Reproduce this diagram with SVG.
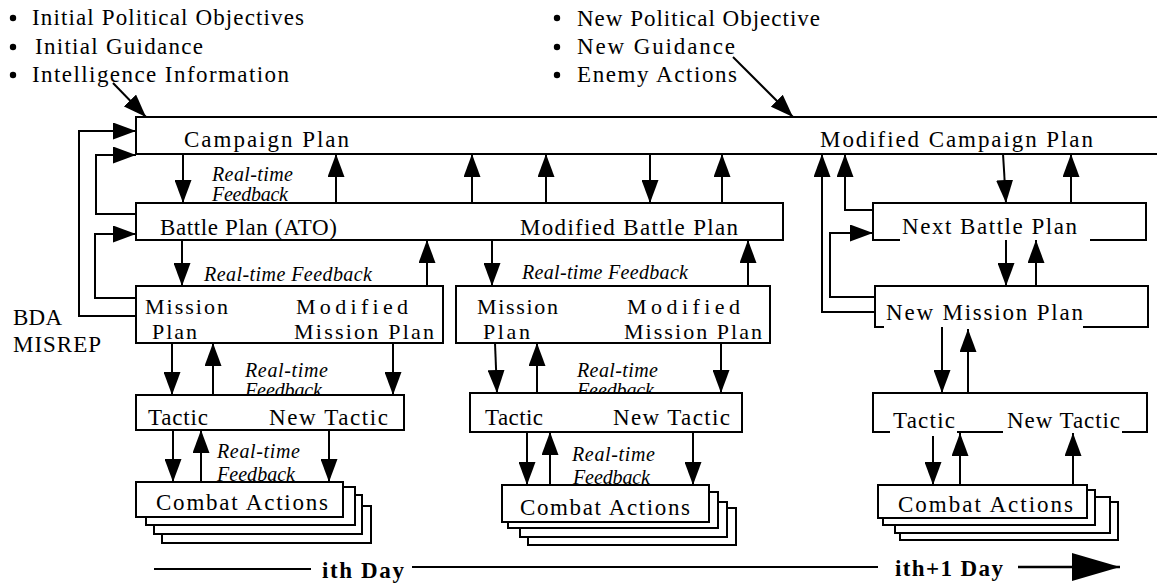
<svg xmlns="http://www.w3.org/2000/svg" width="1157" height="585" viewBox="0 0 1157 585">
  <defs>
    <style>
      text { font-family: "Liberation Serif", "Times New Roman", serif; fill: #000; }
      .lbl { font-size: 23px; }
      .lbl2 { font-size: 22px; }
      .fb { font-size: 20px; font-style: italic; }
      .day { font-size: 23px; font-weight: bold; }
      .box { fill: #fff; stroke: #000; stroke-width: 2; }
      .fill { fill: #fff; stroke: none; }
      .edge { fill: none; stroke: #000; stroke-width: 2; }
      .ln { fill: none; stroke: #000; stroke-width: 2; marker-end: url(#ah); }
      .ln-big { fill: none; stroke: #000; stroke-width: 2.5; marker-end: url(#ahBig); }
    </style>
    <marker id="ah" markerUnits="userSpaceOnUse" viewBox="0 0 23 17" markerWidth="23" markerHeight="17" refX="23" refY="8.5" orient="auto">
      <path d="M0,0 L23,8.5 L0,17 z" fill="#000"/>
    </marker>
    <marker id="ahBig" markerUnits="userSpaceOnUse" viewBox="0 0 48 28" markerWidth="48" markerHeight="28" refX="48" refY="14" orient="auto">
      <path d="M0,0 L48,14 L0,28 z" fill="#000"/>
    </marker>
  </defs>

  <rect x="0" y="0" width="1157" height="585" fill="#fff"/>

  <!-- inputs to the campaign -->
  <g id="initial-inputs">
    <circle cx="13" cy="18" r="3.2"/>
    <circle cx="13" cy="47" r="3.2"/>
    <circle cx="13" cy="75" r="3.2"/>
    <text class="lbl" x="32" y="25" textLength="272">Initial Political Objectives</text>
    <text class="lbl" x="35" y="54" textLength="168">Initial Guidance</text>
    <text class="lbl" x="32" y="82" textLength="257">Intelligence Information</text>
  </g>
  <g id="new-inputs">
    <circle cx="557" cy="18" r="3.2"/>
    <circle cx="557" cy="47" r="3.2"/>
    <circle cx="557" cy="75" r="3.2"/>
    <text class="lbl" x="577" y="26" textLength="243">New Political Objective</text>
    <text class="lbl" x="577" y="54" textLength="158">New Guidance</text>
    <text class="lbl" x="577" y="82" textLength="160">Enemy Actions</text>
  </g>
  <g id="bda-misrep">
    <text class="lbl" x="13" y="325" textLength="49">BDA</text>
    <text class="lbl" x="13" y="352" textLength="88">MISREP</text>
  </g>

  <!-- arrows and feedback loops -->
  <g id="connectors">
    <path class="ln" d="M113,83 L146,117"/>
    <path class="ln" d="M733,57 L793,117"/>

    <!-- campaign / battle plan -->
    <path class="ln" d="M183,154 V203"/>
    <path class="ln" d="M336,203 V154"/>
    <path class="ln" d="M472,203 V154"/>
    <path class="ln" d="M546,203 V154"/>
    <path class="ln" d="M650,154 V203"/>
    <path class="ln" d="M722,203 V154"/>
    <path class="ln" d="M1003,154 L1006,203"/>
    <path class="ln" d="M1071,203 V154"/>
    <path class="ln" d="M875,312 H822 V154"/>
    <path class="ln" d="M873,210 H845 V154"/>
    <path class="ln" d="M875,297 H830 V233 H873"/>

    <!-- battle / mission plan -->
    <path class="ln" d="M182,240 V286"/>
    <path class="ln" d="M427,286 V240"/>
    <path class="ln" d="M492,240 V286"/>
    <path class="ln" d="M748,286 V240"/>
    <path class="ln" d="M1006,240 V286"/>
    <path class="ln" d="M1036,286 V240"/>

    <!-- mission plan / tactic -->
    <path class="ln" d="M172,343 V395"/>
    <path class="ln" d="M213,395 V343"/>
    <path class="ln" d="M393,343 V395"/>
    <path class="ln" d="M495,343 L497,393"/>
    <path class="ln" d="M537,393 V343"/>
    <path class="ln" d="M721,343 V393"/>
    <path class="ln" d="M942,325 V393"/>
    <path class="ln" d="M968,393 V329"/>

    <!-- tactic / combat actions -->
    <path class="ln" d="M173,430 V482"/>
    <path class="ln" d="M201,482 V430"/>
    <path class="ln" d="M329,430 V482"/>
    <path class="ln" d="M527,432 V485"/>
    <path class="ln" d="M550,485 V432"/>
    <path class="ln" d="M693,432 V485"/>
    <path class="ln" d="M933,436 V485"/>
    <path class="ln" d="M960,485 V433"/>
    <path class="ln" d="M1073,485 V433"/>

    <!-- BDA / MISREP loops back up the chain -->
    <path class="ln" d="M136,316 H79 V131 H136"/>
    <path class="ln" d="M136,214 H96 V155 H136"/>
    <path class="ln" d="M136,298 H95 V234 H136"/>

    <g id="feedback-labels">
      <text class="fb" x="212" y="181" textLength="81">Real-time</text>
      <text class="fb" x="212" y="201" textLength="76">Feedback</text>
      <text class="fb" x="204" y="281" textLength="168">Real-time Feedback</text>
      <text class="fb" x="522" y="279" textLength="166">Real-time Feedback</text>
      <text class="fb" x="245" y="377" textLength="83">Real-time</text>
      <text class="fb" x="245" y="397" textLength="77">Feedback</text>
      <text class="fb" x="577" y="377" textLength="81">Real-time</text>
      <text class="fb" x="577" y="397" textLength="77">Feedback</text>
      <text class="fb" x="217" y="458" textLength="83">Real-time</text>
      <text class="fb" x="217" y="481" textLength="78">Feedback</text>
      <text class="fb" x="572" y="461" textLength="83">Real-time</text>
      <text class="fb" x="573" y="484" textLength="77">Feedback</text>
    </g>
  </g>

  <!-- plan levels -->
  <g id="campaign-plan">
    <rect class="fill" x="136" y="117" width="1021" height="37"/>
    <path class="edge" d="M1157,117 H136 V154 H1157"/>
    <text class="lbl" x="184" y="147" textLength="165">Campaign Plan</text>
    <text class="lbl" x="820" y="147" textLength="273">Modified Campaign Plan</text>
  </g>

  <g id="battle-plan">
    <rect class="box" x="136" y="203" width="647" height="37"/>
    <text class="lbl" x="160" y="235" textLength="177">Battle Plan (ATO)</text>
    <text class="lbl" x="520" y="235" textLength="218">Modified Battle Plan</text>
  </g>

  <g id="next-battle-plan">
    <rect class="fill" x="873" y="203" width="273" height="37"/>
    <path class="edge" d="M900,240 H873 V203 H1146 V240 H1090"/>
    <text class="lbl" x="902" y="234" textLength="175">Next Battle Plan</text>
  </g>

  <g id="mission-plan-1">
    <rect class="box" x="136" y="286" width="307" height="57"/>
    <text class="lbl2" x="145" y="314" textLength="83">Mission</text>
    <text class="lbl2" x="152" y="339" textLength="45">Plan</text>
    <text class="lbl2" x="296" y="314" textLength="112">Modified</text>
    <text class="lbl2" x="294" y="339" textLength="140">Mission Plan</text>
  </g>

  <g id="mission-plan-2">
    <rect class="box" x="456" y="286" width="314" height="57"/>
    <text class="lbl2" x="477" y="314" textLength="81">Mission</text>
    <text class="lbl2" x="483" y="339" textLength="47">Plan</text>
    <text class="lbl2" x="627" y="314" textLength="113">Modified</text>
    <text class="lbl2" x="624" y="339" textLength="138">Mission Plan</text>
  </g>

  <g id="new-mission-plan">
    <rect class="fill" x="875" y="286" width="273" height="41"/>
    <path class="edge" d="M884,327 H875 V286 H1148 V327 H1083"/>
    <text class="lbl" x="886" y="320" textLength="197">New Mission Plan</text>
  </g>

  <g id="tactic-1">
    <rect class="box" x="136" y="395" width="268" height="35"/>
    <text class="lbl" x="148" y="425" textLength="60">Tactic</text>
    <text class="lbl" x="269" y="425" textLength="119">New Tactic</text>
  </g>

  <g id="tactic-2">
    <rect class="box" x="470" y="393" width="272" height="39"/>
    <text class="lbl" x="485" y="425" textLength="58">Tactic</text>
    <text class="lbl" x="613" y="425" textLength="117">New Tactic</text>
  </g>

  <g id="tactic-3">
    <rect class="fill" x="873" y="393" width="274" height="39"/>
    <path class="edge" d="M890,432 H873 V393 H1147 V432 H1122 M957,432 H1003"/>
    <text class="lbl" x="893" y="428" textLength="62">Tactic</text>
    <text class="lbl" x="1007" y="428" textLength="113">New Tactic</text>
  </g>

  <!-- stacked combat action sheets -->
  <g id="combat-actions-1">
    <rect class="box" x="162" y="506" width="209" height="37"/>
    <rect class="box" x="154" y="495" width="208" height="39"/>
    <rect class="box" x="146" y="487" width="209" height="38"/>
    <rect class="box" x="136" y="482" width="207" height="35"/>
    <text class="lbl" x="156" y="510" textLength="172">Combat Actions</text>
  </g>

  <g id="combat-actions-2">
    <rect class="box" x="528" y="508" width="208" height="37"/>
    <rect class="box" x="520" y="502" width="207" height="35"/>
    <rect class="box" x="508" y="492" width="210" height="36"/>
    <rect class="box" x="502" y="485" width="207" height="37"/>
    <text class="lbl" x="520" y="515" textLength="170">Combat Actions</text>
  </g>

  <g id="combat-actions-3">
    <rect class="box" x="900" y="502" width="218" height="38"/>
    <rect class="box" x="895" y="497" width="215" height="36"/>
    <rect class="box" x="883" y="490" width="212" height="35"/>
    <rect class="box" x="878" y="485" width="209" height="33"/>
    <text class="lbl" x="898" y="512" textLength="175">Combat Actions</text>
  </g>

  <!-- time axis -->
  <g id="timeline">
    <path class="edge" d="M154,569 H311"/>
    <text class="day" x="322" y="578" textLength="82">ith Day</text>
    <path class="edge" d="M412,567 H878"/>
    <text class="day" x="895" y="576" textLength="108">ith+1 Day</text>
    <path class="ln-big" d="M1018,567 H1120"/>
  </g>
</svg>
